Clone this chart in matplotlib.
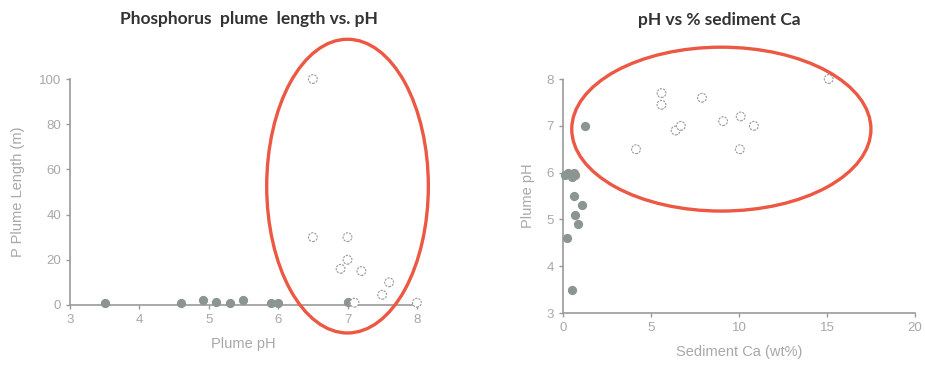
import matplotlib.pyplot as plt
from matplotlib.patches import Ellipse

# Left panel: plume pH vs P plume length
low_ph = [3.5, 4.6, 4.92, 5.1, 5.3, 5.5, 5.9, 6.0, 7.0]
low_len = [1, 1, 2, 1.5, 1, 2, 1, 1, 1.5]
high_ph = [6.5, 6.5, 7.0, 7.0, 6.9, 7.2, 7.6, 7.5, 7.1, 8.0]
high_len = [100, 30, 30, 20, 16, 15, 10, 4.5, 1, 1]

# Right panel: sediment Ca vs plume pH
low_ca = [1.25, 0.1, 0.3, 0.5, 0.6, 0.7, 0.65, 1.1, 0.7, 0.85, 0.25, 0.5]
low_ca_ph = [7.0, 5.95, 6.0, 5.9, 6.0, 5.95, 5.5, 5.3, 5.1, 4.9, 4.6, 3.5]
high_ca = [15.1, 5.6, 5.6, 7.9, 9.1, 10.1, 10.85, 6.4, 6.7, 4.15, 10.05]
high_ca_ph = [8.0, 7.7, 7.45, 7.6, 7.1, 7.2, 7.0, 6.9, 7.0, 6.5, 6.5]

fill_col = "#8c9690"
axis_col = "#9a9a9a"
text_col = "#a8a8a8"
ring_col = "#ec5843"

plt.rcParams["font.family"] = ["Liberation Sans", "DejaVu Sans"]

fig = plt.figure(figsize=(9.25, 3.71), dpi=100)
ax1 = fig.add_axes([0.0757, 0.178, 0.375, 0.609])
ax2 = fig.add_axes([0.6086, 0.156, 0.3805, 0.631])


def style(ax):
    for side in ["top", "right"]:
        ax.spines[side].set_visible(False)
    for side in ["left", "bottom"]:
        ax.spines[side].set_color(axis_col)
        ax.spines[side].set_linewidth(1.2)
        ax.spines[side].set_linestyle((0, (2, 1)))
    ax.tick_params(colors=axis_col, labelcolor=text_col, length=3, width=1,
                   labelsize=9.5)


# left plot
ax1.scatter(low_ph, low_len, s=32, color=fill_col, zorder=3, clip_on=False)
ax1.scatter(high_ph, high_len, s=40, facecolor="white", edgecolor="#9a9a9a",
            linewidth=0.8, linestyle=(0, (2, 1)), zorder=3, clip_on=False)
ax1.set_xlim(3, 8)
ax1.set_ylim(0, 100)
ax1.set_xticks([3, 4, 5, 6, 7, 8])
ax1.set_yticks([0, 20, 40, 60, 80, 100])
ax1.set_xlabel("Plume pH", color=text_col, fontsize=10.5, labelpad=8)
ax1.set_ylabel("P Plume Length (m)", color=text_col, fontsize=10.5, labelpad=10)
style(ax1)
ax1.add_patch(Ellipse((7.0, 52.6), 2.33, 130, fill=False, edgecolor=ring_col,
                      linewidth=2.4, clip_on=False, zorder=4))
fig.text(0.269, 0.95, "Phosphorus  plume  length vs. pH", ha="center",
         va="center", fontsize=12.5, color="#333333", fontfamily="Lato",
         fontweight="bold")

# right plot
ax2.scatter(low_ca, low_ca_ph, s=32, color=fill_col, zorder=3, clip_on=False)
ax2.scatter(high_ca, high_ca_ph, s=40, facecolor="white", edgecolor="#9a9a9a",
            linewidth=0.8, linestyle=(0, (2, 1)), zorder=3, clip_on=False)
ax2.set_xlim(0, 20)
ax2.set_ylim(3, 8)
ax2.set_xticks([0, 5, 10, 15, 20])
ax2.set_yticks([3, 4, 5, 6, 7, 8])
ax2.set_xlabel("Sediment Ca (wt%)", color=text_col, fontsize=10.5, labelpad=8)
ax2.set_ylabel("Plume pH", color=text_col, fontsize=10.5, labelpad=8)
style(ax2)
ax2.add_patch(Ellipse((9.0, 6.93), 17.0, 3.5, fill=False, edgecolor=ring_col,
                      linewidth=2.4, clip_on=False, zorder=4))
fig.text(0.778, 0.947, "pH vs % sediment Ca", ha="center", va="center",
         fontsize=12.5, color="#333333", fontfamily="Lato", fontweight="bold")

fig.savefig("out.png", dpi=100)
